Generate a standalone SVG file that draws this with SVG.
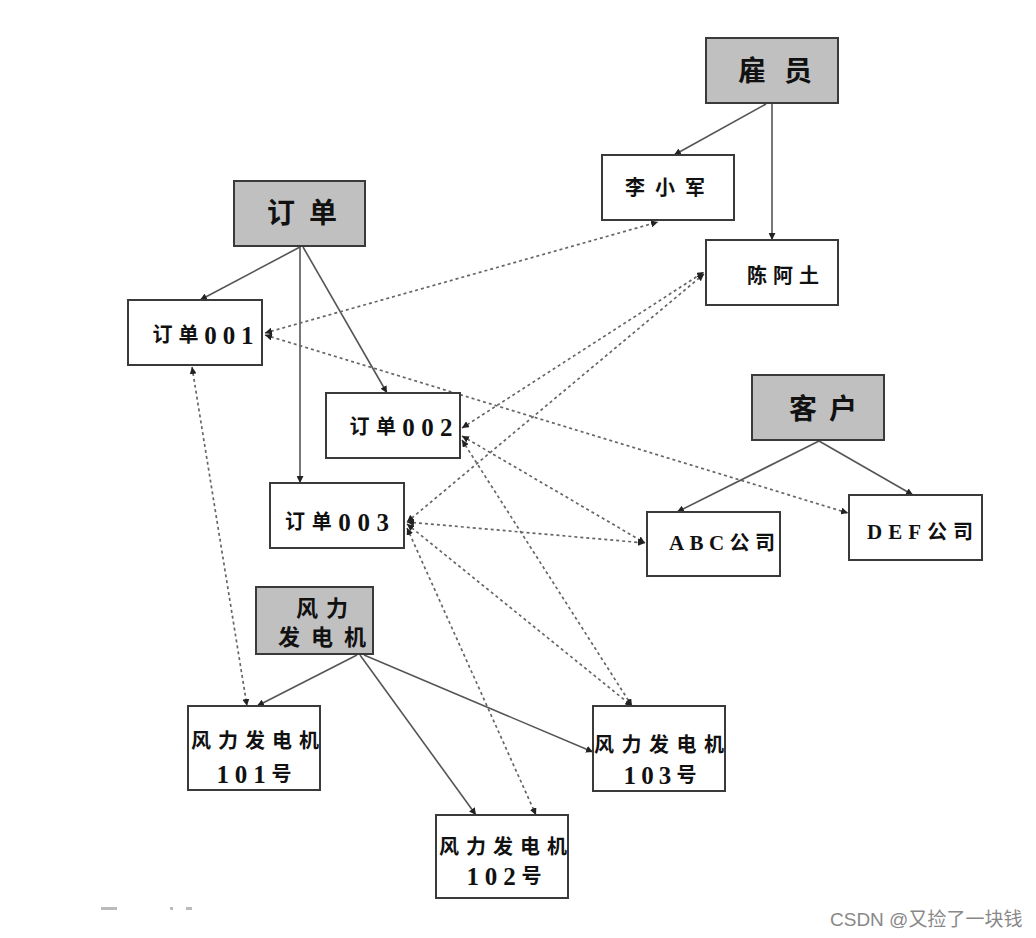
<svg xmlns="http://www.w3.org/2000/svg" width="1036" height="938" viewBox="0 0 1036 938">
<style>
.box{fill:#fff;stroke:#3a3a3a;stroke-width:2}
.hdr{fill:#c0c0c0;stroke:#3a3a3a;stroke-width:2}
.t{font-family:"Liberation Serif","Noto Sans CJK SC",serif;font-weight:bold;fill:#111;text-anchor:middle;dominant-baseline:central}
.th{font-size:28px}
.tn{font-size:20px}
.d{font-size:25px}
.solid{stroke:#555;stroke-width:1.6;fill:none;marker-end:url(#ah)}
.dash{stroke:#666;stroke-width:1.7;fill:none;stroke-dasharray:3 3;marker-start:url(#ah);marker-end:url(#ah)}
.wm{font-family:"Liberation Sans","Noto Sans CJK SC",sans-serif;font-size:19px;fill:#888}
</style>
<defs>
<marker id="ah" viewBox="0 0 10 10" refX="10" refY="5" markerWidth="7" markerHeight="7" markerUnits="userSpaceOnUse" orient="auto-start-reverse">
<path d="M0,0 L10,5 L0,10 z" fill="#222"/>
</marker>
</defs>
<rect width="1036" height="938" fill="#fff"/>
<g id="connectors">
<line class="solid" x1="766" y1="104" x2="674" y2="155"/>
<line class="solid" x1="772" y1="104" x2="772" y2="240"/>
<line class="solid" x1="300" y1="247" x2="200" y2="300"/>
<line class="solid" x1="300" y1="247" x2="300" y2="483"/>
<line class="solid" x1="303" y1="247" x2="387" y2="393"/>
<line class="solid" x1="819" y1="441" x2="677" y2="512"/>
<line class="solid" x1="819" y1="441" x2="913" y2="495"/>
<line class="solid" x1="357" y1="655" x2="257" y2="706"/>
<line class="solid" x1="360" y1="655" x2="476" y2="815"/>
<line class="solid" x1="364" y1="655" x2="593" y2="752"/>
<line class="dash" x1="265" y1="333" x2="658" y2="222"/>
<line class="dash" x1="265" y1="335" x2="848" y2="513"/>
<line class="dash" x1="192" y1="367" x2="247" y2="706"/>
<line class="dash" x1="462" y1="428" x2="704" y2="272"/>
<line class="dash" x1="407" y1="522" x2="704" y2="274"/>
<line class="dash" x1="462" y1="436" x2="645" y2="543"/>
<line class="dash" x1="462" y1="440" x2="632" y2="706"/>
<line class="dash" x1="407" y1="522" x2="645" y2="543"/>
<line class="dash" x1="407" y1="524" x2="632" y2="706"/>
<line class="dash" x1="407" y1="528" x2="536" y2="815"/>
</g>
<g id="n-guyuan"><rect class="hdr" x="706" y="38" width="132" height="65"/><text class="t th" x="775" y="71" textLength="74" lengthAdjust="spacing">雇员</text></g>
<g id="n-lixiaojun"><rect class="box" x="602" y="155" width="132" height="65"/><text class="t tn" x="665" y="188" textLength="80" lengthAdjust="spacing">李小军</text></g>
<g id="n-chenatu"><rect class="box" x="706" y="240" width="132" height="65"/><text class="t tn" x="783" y="276" textLength="72" lengthAdjust="spacing">陈阿土</text></g>
<g id="n-dingdan"><rect class="hdr" x="234" y="181" width="131" height="65"/><text class="t th" x="302" y="213" textLength="70" lengthAdjust="spacing">订单</text></g>
<g id="n-dd001"><rect class="box" x="128" y="300" width="134" height="65"/><text class="t tn" x="203" y="335" textLength="101" lengthAdjust="spacing">订单<tspan class="d">001</tspan></text></g>
<g id="n-dd002"><rect class="box" x="326" y="393" width="134" height="65"/><text class="t tn" x="401" y="427" textLength="103" lengthAdjust="spacing">订单<tspan class="d">002</tspan></text></g>
<g id="n-dd003"><rect class="box" x="270" y="483" width="134" height="65"/><text class="t tn" x="337" y="522" textLength="104" lengthAdjust="spacing">订单<tspan class="d">003</tspan></text></g>
<g id="n-kehu"><rect class="hdr" x="752" y="375" width="132" height="65"/><text class="t th" x="823" y="409" textLength="68" lengthAdjust="spacing">客户</text></g>
<g id="n-abc"><rect class="box" x="647" y="512" width="133" height="64"/><text class="t tn" x="722" y="543" textLength="106" lengthAdjust="spacing"><tspan style="font-size:21px">ABC</tspan>公司</text></g>
<g id="n-def"><rect class="box" x="849" y="495" width="133" height="65"/><text class="t tn" x="920" y="532" textLength="106" lengthAdjust="spacing"><tspan style="font-size:21px">DEF</tspan>公司</text></g>
<g id="n-fengli"><rect class="hdr" x="256" y="587" width="117" height="67"/><text class="t" style="font-size:22px" x="322" y="608" textLength="52" lengthAdjust="spacing">风力</text><text class="t" style="font-size:22px" x="322" y="637" textLength="88" lengthAdjust="spacing">发电机</text></g>
<g id="n-f101"><rect class="box" x="188" y="706" width="132" height="84"/><text class="t tn" x="255" y="741" textLength="128" lengthAdjust="spacing">风力发电机</text><text class="t tn" x="254" y="774" textLength="75" lengthAdjust="spacing"><tspan class="d">101</tspan>号</text></g>
<g id="n-f103"><rect class="box" x="593" y="706" width="132" height="85"/><text class="t tn" x="659" y="745" textLength="130" lengthAdjust="spacing">风力发电机</text><text class="t tn" x="660" y="775" textLength="73" lengthAdjust="spacing"><tspan class="d">103</tspan>号</text></g>
<g id="n-f102"><rect class="box" x="436" y="815" width="132" height="83"/><text class="t tn" x="503" y="847" textLength="128" lengthAdjust="spacing">风力发电机</text><text class="t tn" x="504" y="876" textLength="75" lengthAdjust="spacing"><tspan class="d">102</tspan>号</text></g>
<g id="marks" fill="#bbb"><rect x="101" y="907" width="16" height="3"/><rect x="170" y="907" width="3" height="3"/><rect x="186" y="907" width="6" height="3"/></g>
<text class="wm" x="830" y="926">CSDN @又捡了一块钱</text>
</svg>
